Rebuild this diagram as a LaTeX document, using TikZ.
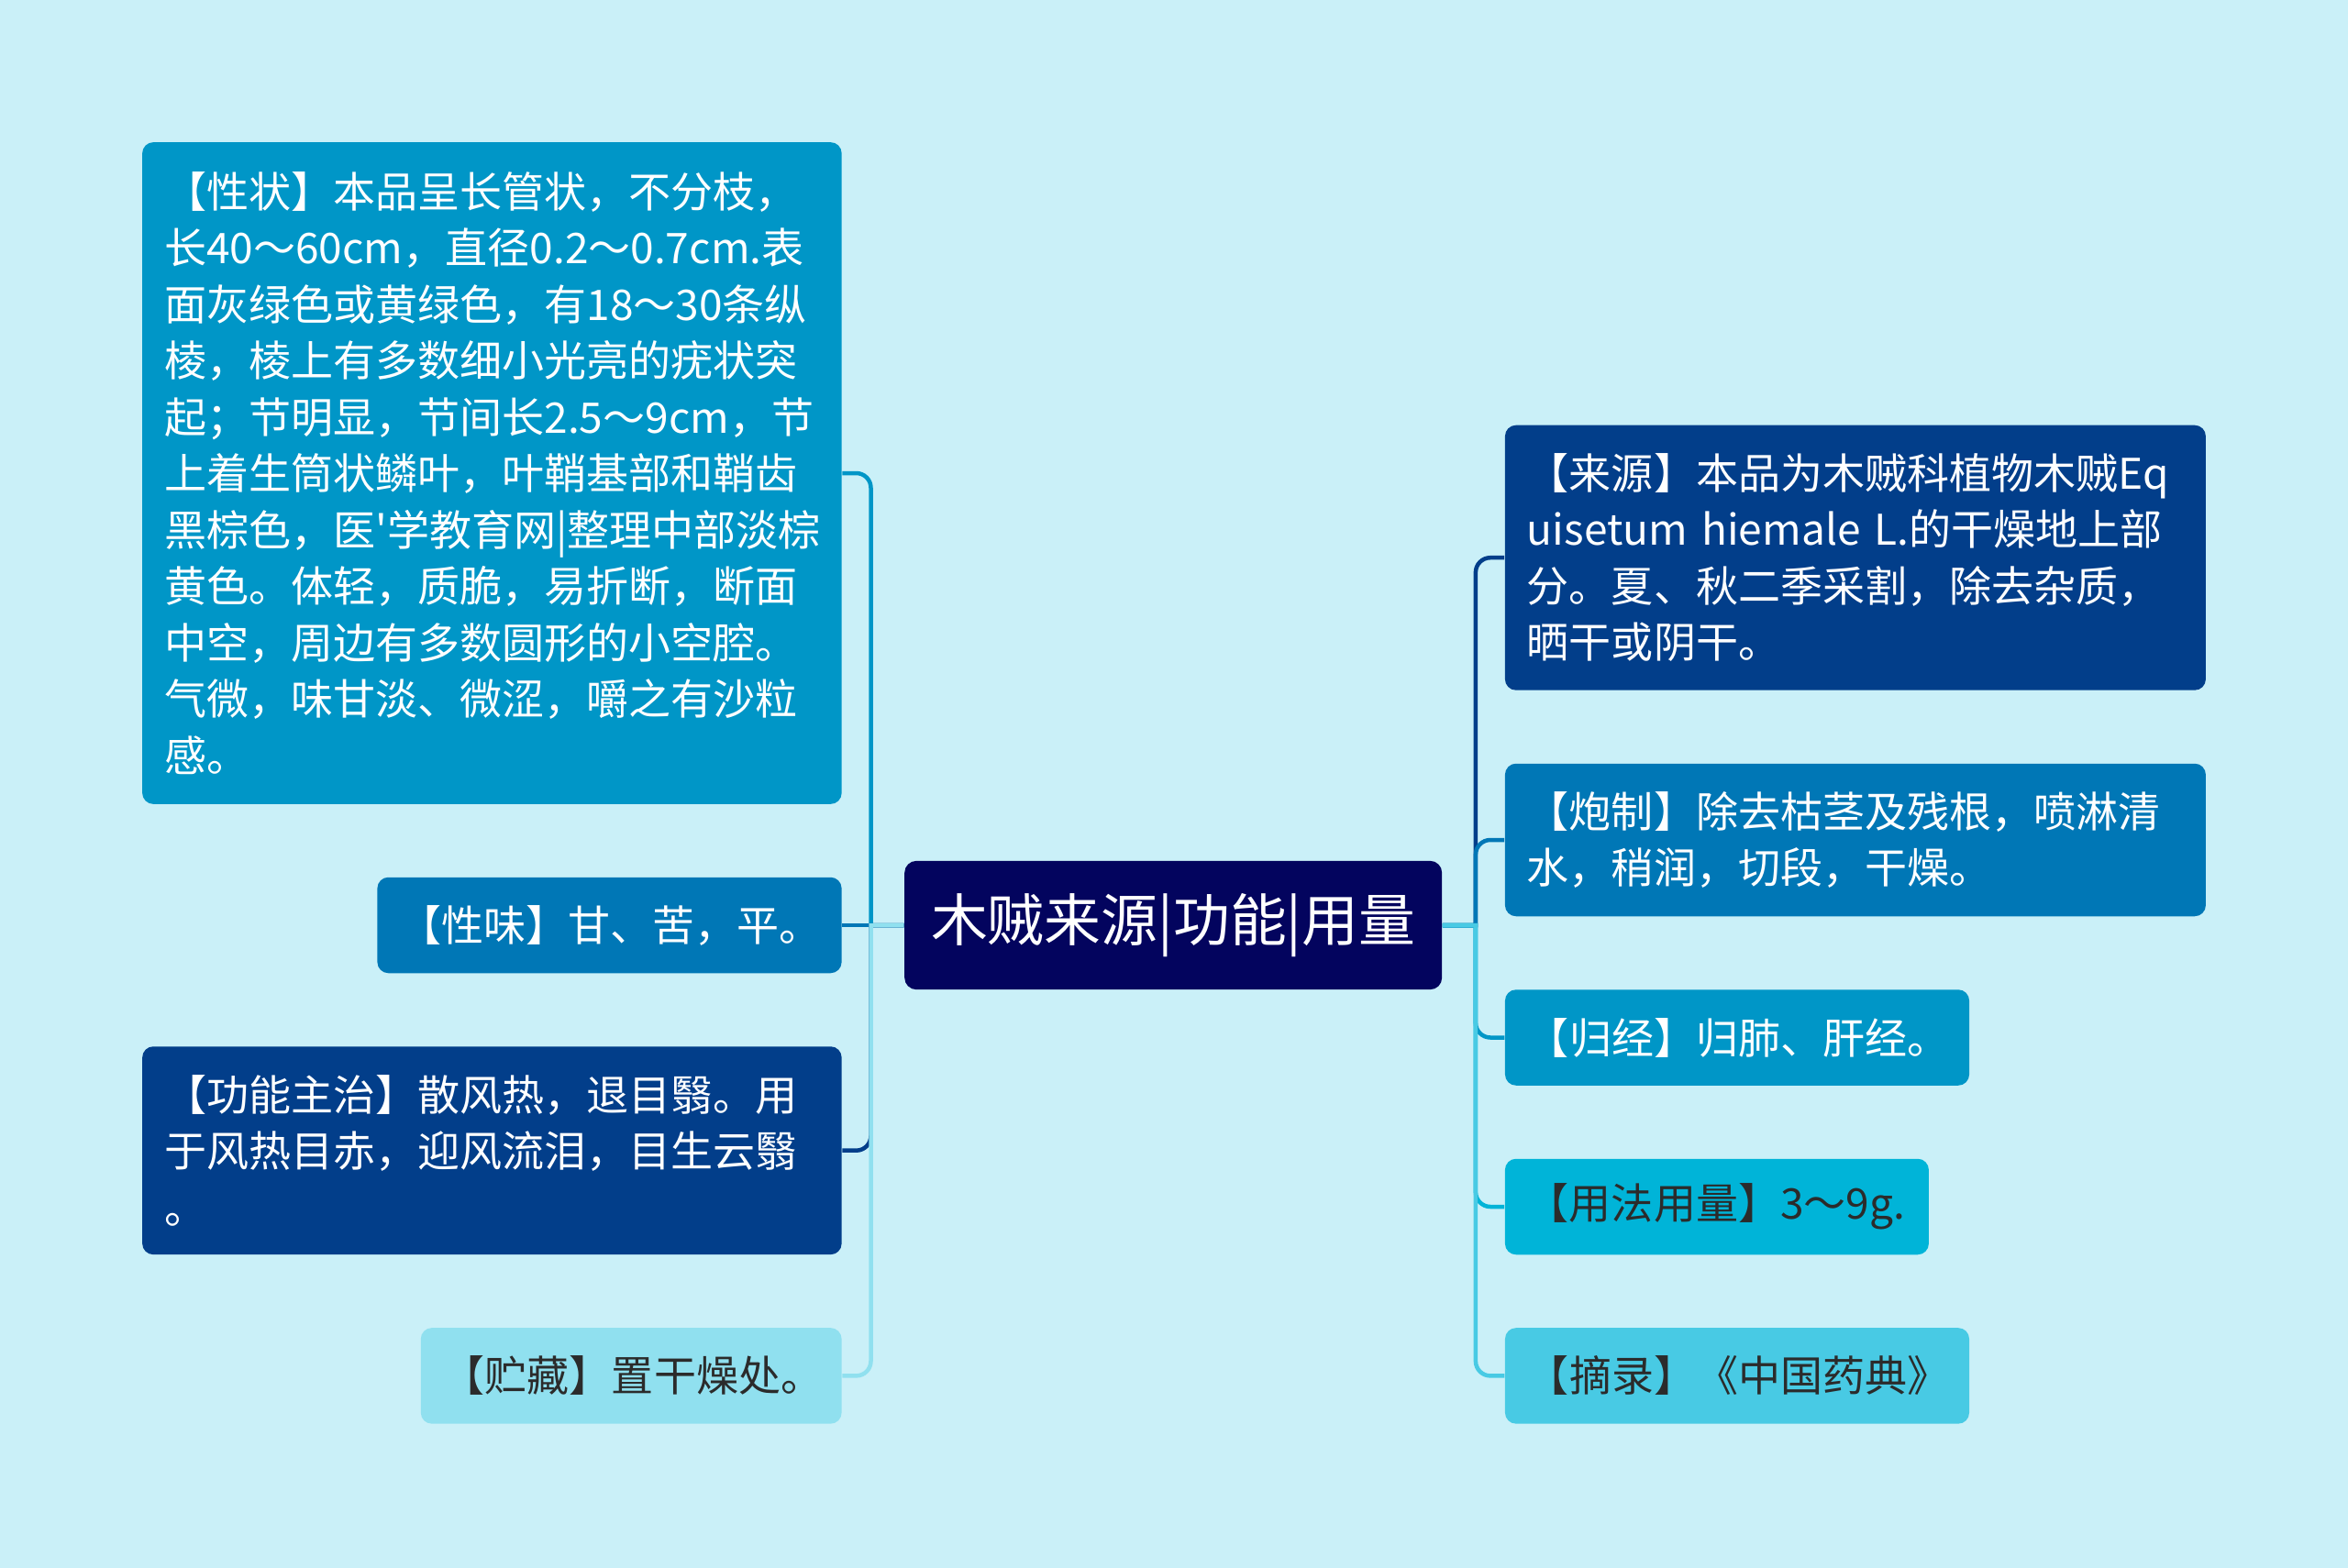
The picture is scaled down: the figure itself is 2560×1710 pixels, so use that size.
\documentclass[tikz,border=0pt]{standalone}
\usepackage{fontspec}
\newfontfamily\cjk{Noto Sans CJK SC}
\usetikzlibrary{calc}
\definecolor{bgc}{HTML}{CAF0F8}
\definecolor{cA}{HTML}{03045E}
\definecolor{cB}{HTML}{023E8A}
\definecolor{cC}{HTML}{0077B6}
\definecolor{cD}{HTML}{0096C7}
\definecolor{cE}{HTML}{00B4D8}
\definecolor{cF}{HTML}{48CAE4}
\definecolor{cG}{HTML}{90E0EF}
\definecolor{txtdark}{HTML}{2B2B2B}
\begin{document}
\begin{tikzpicture}[x=0.1mm,y=-0.1mm,
  box/.style={rounded corners=1.2mm, inner xsep=2.4mm, inner ysep=0pt, align=left,
    font=\cjk\fontsize{13.1pt}{17.5pt}\selectfont, anchor=center, text=white},
  rootbox/.style={rounded corners=1.3mm, inner sep=0pt, align=center,
    font=\cjk\fontsize{17.6pt}{20pt}\selectfont, anchor=center, text=white, fill=cA},
  link/.style={line width=0.45mm}]
\fill[bgc] (0,0) rectangle (2560,1710);
\useasboundingbox (0,0) rectangle (2560,1710);

\node[rootbox, minimum width=58.6mm, minimum height=14.04mm] (root) at (1279.2,1009) {木贼来源|功能|用量};

% left
\node[box, fill=cD, text width=71.45mm, minimum height=72.17mm] (xz) at (536.4,516) {【性状】本品呈长管状，不分枝，\\长40～60cm，直径0.2～0.7cm.表\\面灰绿色或黄绿色，有18～30条纵\\棱，棱上有多数细小光亮的疣状突\\起；节明显，节间长2.5～9cm，节\\上着生筒状鳞叶，叶鞘基部和鞘齿\\黑棕色，医'学教育网|整理中部淡棕\\黄色。体轻，质脆，易折断，断面\\中空，周边有多数圆形的小空腔。\\气微，味甘淡、微涩，嚼之有沙粒\\感。};
\node[box, fill=cC, text width=45.82mm, minimum height=10.45mm] (xw) at (664.5,1009) {【性味】甘、苦，平。};
\node[box, fill=cB, text width=71.45mm, minimum height=22.69mm] (gn) at (536.4,1254.7) {【功能主治】散风热，退目翳。用\\于风热目赤，迎风流泪，目生云翳\\。};
\node[box, fill=cG, text=txtdark, text width=41.08mm, minimum height=10.45mm] (zc) at (688.2,1500.4) {【贮藏】置干燥处。};

% right
\node[box, fill=cB, text width=71.6mm, minimum height=28.9mm] (ly) at (2022.9,608.2) {【来源】本品为木贼科植物木贼Eq\\uisetum hiemale L.的干燥地上部\\分。夏、秋二季采割，除去杂质，\\晒干或阴干。};
\node[box, fill=cC, text width=71.6mm, minimum height=16.65mm] (pz) at (2022.9,916) {【炮制】除去枯茎及残根，喷淋清\\水，稍润，切段，干燥。};
\node[box, fill=cD, text width=45.81mm, minimum height=10.45mm] (gj) at (1894,1131.5) {【归经】归肺、肝经。};
\node[box, fill=cE, text=txtdark, text width=41.4mm, minimum height=10.45mm] (yf) at (1871.9,1316) {【用法用量】3～9g.};
\node[box, fill=cF, text=txtdark, text width=45.81mm, minimum height=10.45mm] (zl) at (1894,1500.4) {【摘录】《中国药典》};

% connectors left
\draw[link, cD] (root.west) -- ++(-36,0) [rounded corners=1.6mm] |- (xz.east);
\draw[link, cC] (root.west) -- (xw.east);
\draw[link, cB] (root.west) -- ++(-36,0) [rounded corners=1.6mm] |- (gn.east);
\draw[link, cG] (root.west) -- ++(-36,0) [rounded corners=1.6mm] |- (zc.east);
% connectors right
\draw[link, cB] (root.east) -- ++(36,0) [rounded corners=1.6mm] |- (ly.west);
\draw[link, cC] (root.east) -- ++(36,0) [rounded corners=1.6mm] |- (pz.west);
\draw[link, cD] (root.east) -- ++(36,0) [rounded corners=1.6mm] |- (gj.west);
\draw[link, cE] (root.east) -- ++(36,0) [rounded corners=1.6mm] |- (yf.west);
\draw[link, cF] (root.east) -- ++(36,0) [rounded corners=1.6mm] |- (zl.west);
\end{tikzpicture}
\end{document}
